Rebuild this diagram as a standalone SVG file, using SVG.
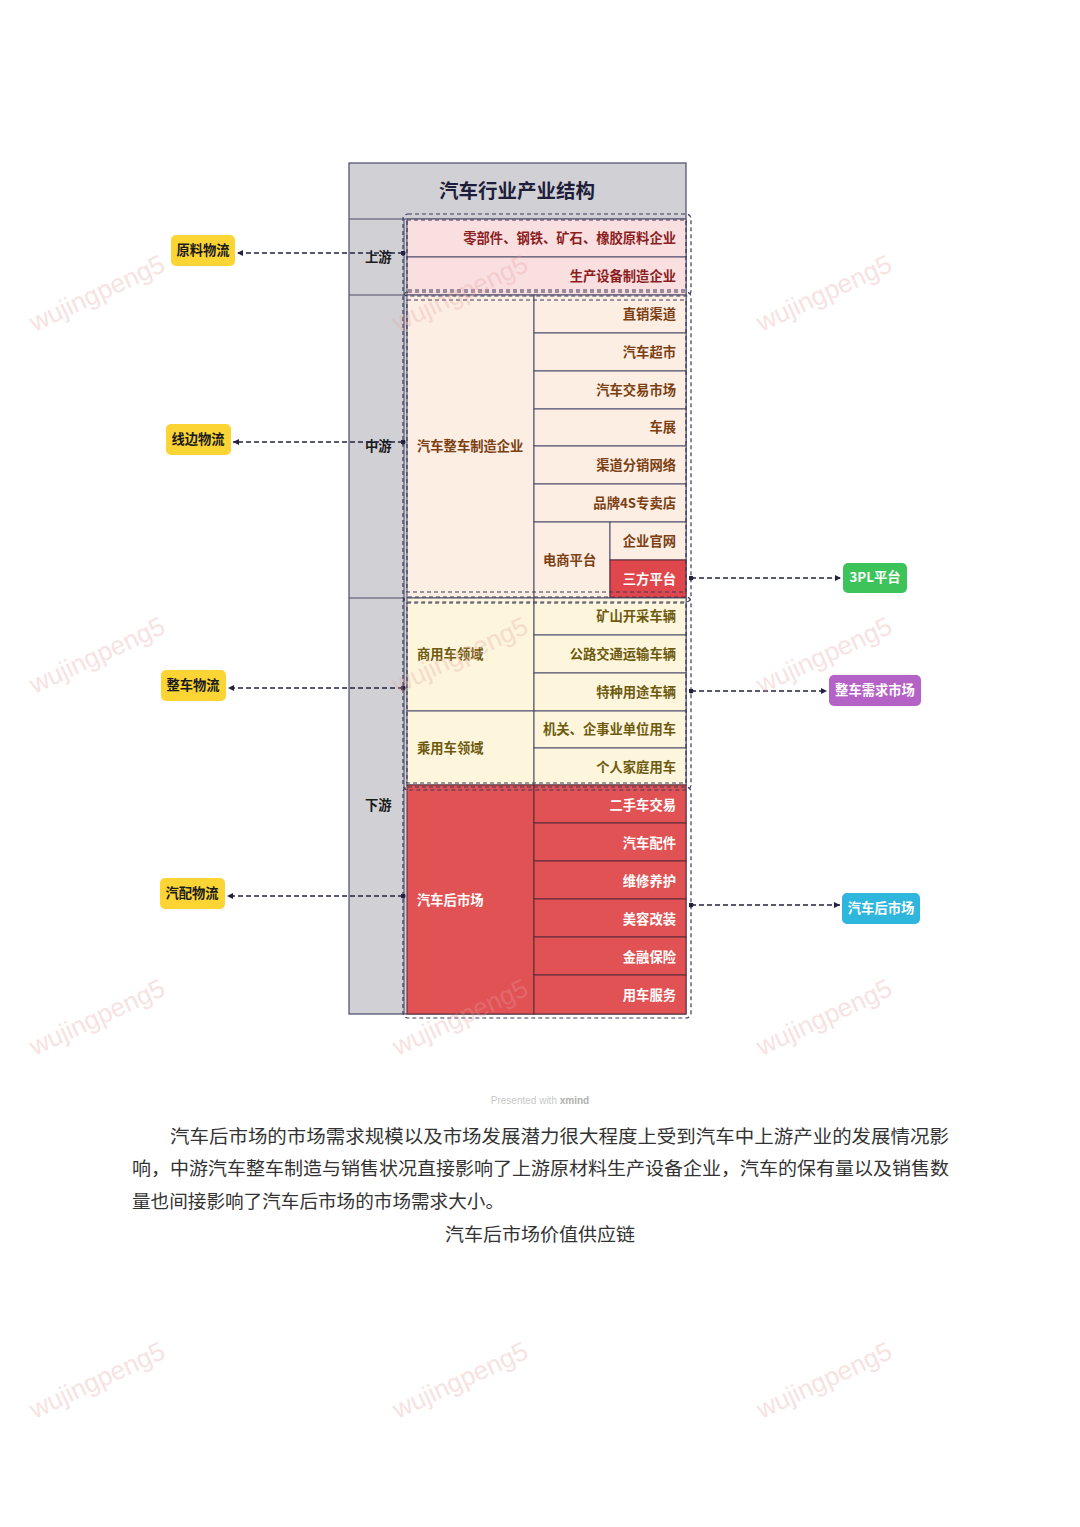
<svg xmlns="http://www.w3.org/2000/svg" width="1080" height="1527" viewBox="0 0 1080 1527">
<defs>
<style>
.t{font-family:"Noto Sans CJK SC","Noto Sans",sans-serif;font-weight:700;font-size:13.3px}
.r{text-anchor:end}
.c{text-anchor:middle}
.up{fill:#fadfe0;stroke:#4a4a6a;stroke-width:1}
.upt{fill:#8b1e1e}
.mid{fill:#fdeee4;stroke:#4a4a6a;stroke-width:1}
.midt{fill:#7b3f12}
.dn{fill:#fdf6dc;stroke:#4a4a6a;stroke-width:1}
.dnt{fill:#6e5a0e}
.red{fill:#e05254;stroke:#5a2a3a;stroke-width:1}
.wt{fill:#ffffff}
.dash{fill:none;stroke:#3a3a5a;stroke-width:1.2;stroke-dasharray:4 3}
.conn{fill:none;stroke:#22223f;stroke-width:1.3;stroke-dasharray:5 3}
.para{font-family:"Liberation Serif","Noto Sans CJK SC",serif;font-size:18.5px;fill:#333}
.wm{font-family:"Liberation Sans",sans-serif;font-size:26px;fill:#e8a0a0;opacity:0.3}
</style>
<marker id="arr" viewBox="0 0 6 6" refX="6" refY="3" markerWidth="6" markerHeight="6" orient="auto-start-reverse" markerUnits="userSpaceOnUse">
<path d="M0,0 L6,3 L0,6 z" fill="#22223f"/>
</marker>
<marker id="dot" viewBox="0 0 6 6" refX="3" refY="3" markerWidth="5" markerHeight="5" markerUnits="userSpaceOnUse">
<circle cx="3" cy="3" r="3" fill="#22223f"/>
</marker>
</defs>
<rect width="1080" height="1527" fill="#ffffff"/>

<g id="frame">
<rect x="349" y="163" width="337" height="851" fill="#d1d1d5" stroke="#4a4a6a" stroke-width="1.2"/>
<line x1="349" y1="219" x2="686" y2="219" stroke="#4a4a6a" stroke-width="1"/>
<line x1="404" y1="219" x2="404" y2="1014" stroke="#4a4a6a" stroke-width="1"/>
<line x1="349" y1="295" x2="404" y2="295" stroke="#4a4a6a" stroke-width="1"/>
<line x1="349" y1="598" x2="404" y2="598" stroke="#4a4a6a" stroke-width="1"/>
<text class="t c" x="517" y="198" style="font-size:19.5px" fill="#1e1e3c">汽车行业产业结构</text>
</g>

<g id="stage-up"><text class="t" x="365" y="262" fill="#1a1a1a">上游</text></g>
<g id="stage-mid"><text class="t" x="365" y="451" fill="#1a1a1a">中游</text></g>
<g id="stage-down"><text class="t" x="365" y="810" fill="#1a1a1a">下游</text></g>

<g id="upstream">
<rect class="up" x="407" y="219" width="279" height="38"/>
<text class="t r upt" x="676" y="243">零部件、钢铁、矿石、橡胶原料企业</text>
<rect class="up" x="407" y="257" width="279" height="38"/>
<text class="t r upt" x="676" y="281">生产设备制造企业</text>
</g>

<g id="midstream">
<rect class="mid" x="407" y="295" width="127" height="303"/>
<text class="t midt" x="417" y="451">汽车整车制造企业</text>
<rect class="mid" x="534" y="295" width="152" height="38"/>
<text class="t r midt" x="676" y="319">直销渠道</text>
<rect class="mid" x="534" y="333" width="152" height="38"/>
<text class="t r midt" x="676" y="357">汽车超市</text>
<rect class="mid" x="534" y="371" width="152" height="38"/>
<text class="t r midt" x="676" y="395">汽车交易市场</text>
<rect class="mid" x="534" y="409" width="152" height="37"/>
<text class="t r midt" x="676" y="432">车展</text>
<rect class="mid" x="534" y="446" width="152" height="38"/>
<text class="t r midt" x="676" y="470">渠道分销网络</text>
<rect class="mid" x="534" y="484" width="152" height="38"/>
<text class="t r midt" x="676" y="508">品牌4S专卖店</text>
<rect class="mid" x="534" y="522" width="76" height="76"/>
<text class="t midt" x="543" y="565">电商平台</text>
<rect class="mid" x="610" y="522" width="76" height="38"/>
<text class="t r midt" x="676" y="546">企业官网</text>
<rect x="610" y="560" width="76" height="38" fill="#e0474c" stroke="#5a2a3a" stroke-width="1"/>
<text class="t r wt" x="676" y="584">三方平台</text>
</g>

<g id="downstream-vehicle">
<rect class="dn" x="407" y="598" width="127" height="113"/>
<text class="t dnt" x="417" y="659">商用车领域</text>
<rect class="dn" x="534" y="598" width="152" height="37"/>
<text class="t r dnt" x="676" y="621">矿山开采车辆</text>
<rect class="dn" x="534" y="635" width="152" height="38"/>
<text class="t r dnt" x="676" y="659">公路交通运输车辆</text>
<rect class="dn" x="534" y="673" width="152" height="38"/>
<text class="t r dnt" x="676" y="697">特种用途车辆</text>
<rect class="dn" x="407" y="711" width="127" height="74"/>
<text class="t dnt" x="417" y="753">乘用车领域</text>
<rect class="dn" x="534" y="711" width="152" height="37"/>
<text class="t r dnt" x="676" y="734">机关、企事业单位用车</text>
<rect class="dn" x="534" y="748" width="152" height="37"/>
<text class="t r dnt" x="676" y="772">个人家庭用车</text>
</g>

<g id="downstream-after">
<rect class="red" x="407" y="785" width="127" height="229"/>
<text class="t wt" x="417" y="905">汽车后市场</text>
<rect class="red" x="534" y="785" width="152" height="38"/>
<text class="t r wt" x="676" y="810">二手车交易</text>
<rect class="red" x="534" y="823" width="152" height="38"/>
<text class="t r wt" x="676" y="848">汽车配件</text>
<rect class="red" x="534" y="861" width="152" height="38"/>
<text class="t r wt" x="676" y="886">维修养护</text>
<rect class="red" x="534" y="899" width="152" height="38"/>
<text class="t r wt" x="676" y="924">美容改装</text>
<rect class="red" x="534" y="937" width="152" height="38"/>
<text class="t r wt" x="676" y="962">金融保险</text>
<rect class="red" x="534" y="975" width="152" height="39"/>
<text class="t r wt" x="676" y="1000">用车服务</text>
</g>

<g id="boundaries">
<rect class="dash" x="403" y="214" width="288" height="82" rx="5"/>
<rect class="dash" x="407" y="220" width="279" height="70"/>
<rect class="dash" x="403" y="292" width="288" height="310" rx="5"/>
<rect class="dash" x="407" y="300" width="279" height="292"/>
<rect class="dash" x="403" y="597" width="288" height="193" rx="5"/>
<rect class="dash" x="407" y="603" width="279" height="180"/>
<rect class="dash" x="403" y="787" width="288" height="231" rx="5"/>
</g>

<g id="logistics-raw">
<rect x="171" y="235" width="64" height="31" rx="5" fill="#fcd535"/>
<text class="t c" x="203" y="255" fill="#1a1a1a">原料物流</text>
</g>
<g id="logistics-line">
<rect x="166" y="424" width="65" height="31" rx="5" fill="#fcd535"/>
<text class="t c" x="198" y="444" fill="#1a1a1a">线边物流</text>
</g>
<g id="logistics-vehicle">
<rect x="161" y="670" width="65" height="31" rx="5" fill="#fcd535"/>
<text class="t c" x="193" y="690" fill="#1a1a1a">整车物流</text>
</g>
<g id="logistics-parts">
<rect x="160" y="878" width="65" height="31" rx="5" fill="#fcd535"/>
<text class="t c" x="192" y="898" fill="#1a1a1a">汽配物流</text>
</g>
<g id="target-3pl">
<rect x="843" y="563" width="64" height="30" rx="5" fill="#3cc45a"/>
<text class="t c wt" x="875" y="582">3PL平台</text>
</g>
<g id="target-vehicle-demand">
<rect x="829" y="675" width="92" height="31" rx="5" fill="#b562c6"/>
<text class="t c wt" x="875" y="695">整车需求市场</text>
</g>
<g id="target-aftermarket">
<rect x="842" y="893" width="78" height="31" rx="5" fill="#2fb6dc"/>
<text class="t c wt" x="881" y="913">汽车后市场</text>
</g>

<g id="connectors">
<path class="conn" d="M403,253 L237,253" marker-start="url(#dot)" marker-end="url(#arr)"/>
<path class="conn" d="M403,442 L233,442" marker-start="url(#dot)" marker-end="url(#arr)"/>
<path class="conn" d="M403,688 L228,688" marker-start="url(#dot)" marker-end="url(#arr)"/>
<path class="conn" d="M403,896 L227,896" marker-start="url(#dot)" marker-end="url(#arr)"/>
<path class="conn" d="M691,578 L841,578" marker-start="url(#dot)" marker-end="url(#arr)"/>
<path class="conn" d="M691,691 L827,691" marker-start="url(#dot)" marker-end="url(#arr)"/>
<path class="conn" d="M691,905 L840,905" marker-start="url(#dot)" marker-end="url(#arr)"/>
</g>

<g id="credit">
<text x="540" y="1104" text-anchor="middle" font-family="Liberation Sans, sans-serif" font-size="10" fill="#c8c8c8">Presented with <tspan font-weight="700" fill="#b0b0b0">xmind</tspan></text>
</g>

<g id="caption">
<text class="para" x="170" y="1143" textLength="779" lengthAdjust="spacingAndGlyphs">汽车后市场的市场需求规模以及市场发展潜力很大程度上受到汽车中上游产业的发展情况影</text>
<text class="para" x="132" y="1175" textLength="817" lengthAdjust="spacingAndGlyphs">响，中游汽车整车制造与销售状况直接影响了上游原材料生产设备企业，汽车的保有量以及销售数</text>
<text class="para" x="132" y="1208" textLength="372" lengthAdjust="spacingAndGlyphs">量也间接影响了汽车后市场的市场需求大小。</text>
<text class="para" x="540" y="1241" text-anchor="middle" textLength="190" lengthAdjust="spacingAndGlyphs">汽车后市场价值供应链</text>
</g>

<g id="watermarks">
<text class="wm" transform="translate(97,293) rotate(-25)" text-anchor="middle" dy="9">wujingpeng5</text>
<text class="wm" transform="translate(460,293) rotate(-25)" text-anchor="middle" dy="9">wujingpeng5</text>
<text class="wm" transform="translate(824,293) rotate(-25)" text-anchor="middle" dy="9">wujingpeng5</text>
<text class="wm" transform="translate(97,655) rotate(-25)" text-anchor="middle" dy="9">wujingpeng5</text>
<text class="wm" transform="translate(460,655) rotate(-25)" text-anchor="middle" dy="9">wujingpeng5</text>
<text class="wm" transform="translate(824,655) rotate(-25)" text-anchor="middle" dy="9">wujingpeng5</text>
<text class="wm" transform="translate(97,1017) rotate(-25)" text-anchor="middle" dy="9">wujingpeng5</text>
<text class="wm" transform="translate(460,1017) rotate(-25)" text-anchor="middle" dy="9">wujingpeng5</text>
<text class="wm" transform="translate(824,1017) rotate(-25)" text-anchor="middle" dy="9">wujingpeng5</text>
<text class="wm" transform="translate(97,1380) rotate(-25)" text-anchor="middle" dy="9">wujingpeng5</text>
<text class="wm" transform="translate(460,1380) rotate(-25)" text-anchor="middle" dy="9">wujingpeng5</text>
<text class="wm" transform="translate(824,1380) rotate(-25)" text-anchor="middle" dy="9">wujingpeng5</text>
</g>
</svg>
